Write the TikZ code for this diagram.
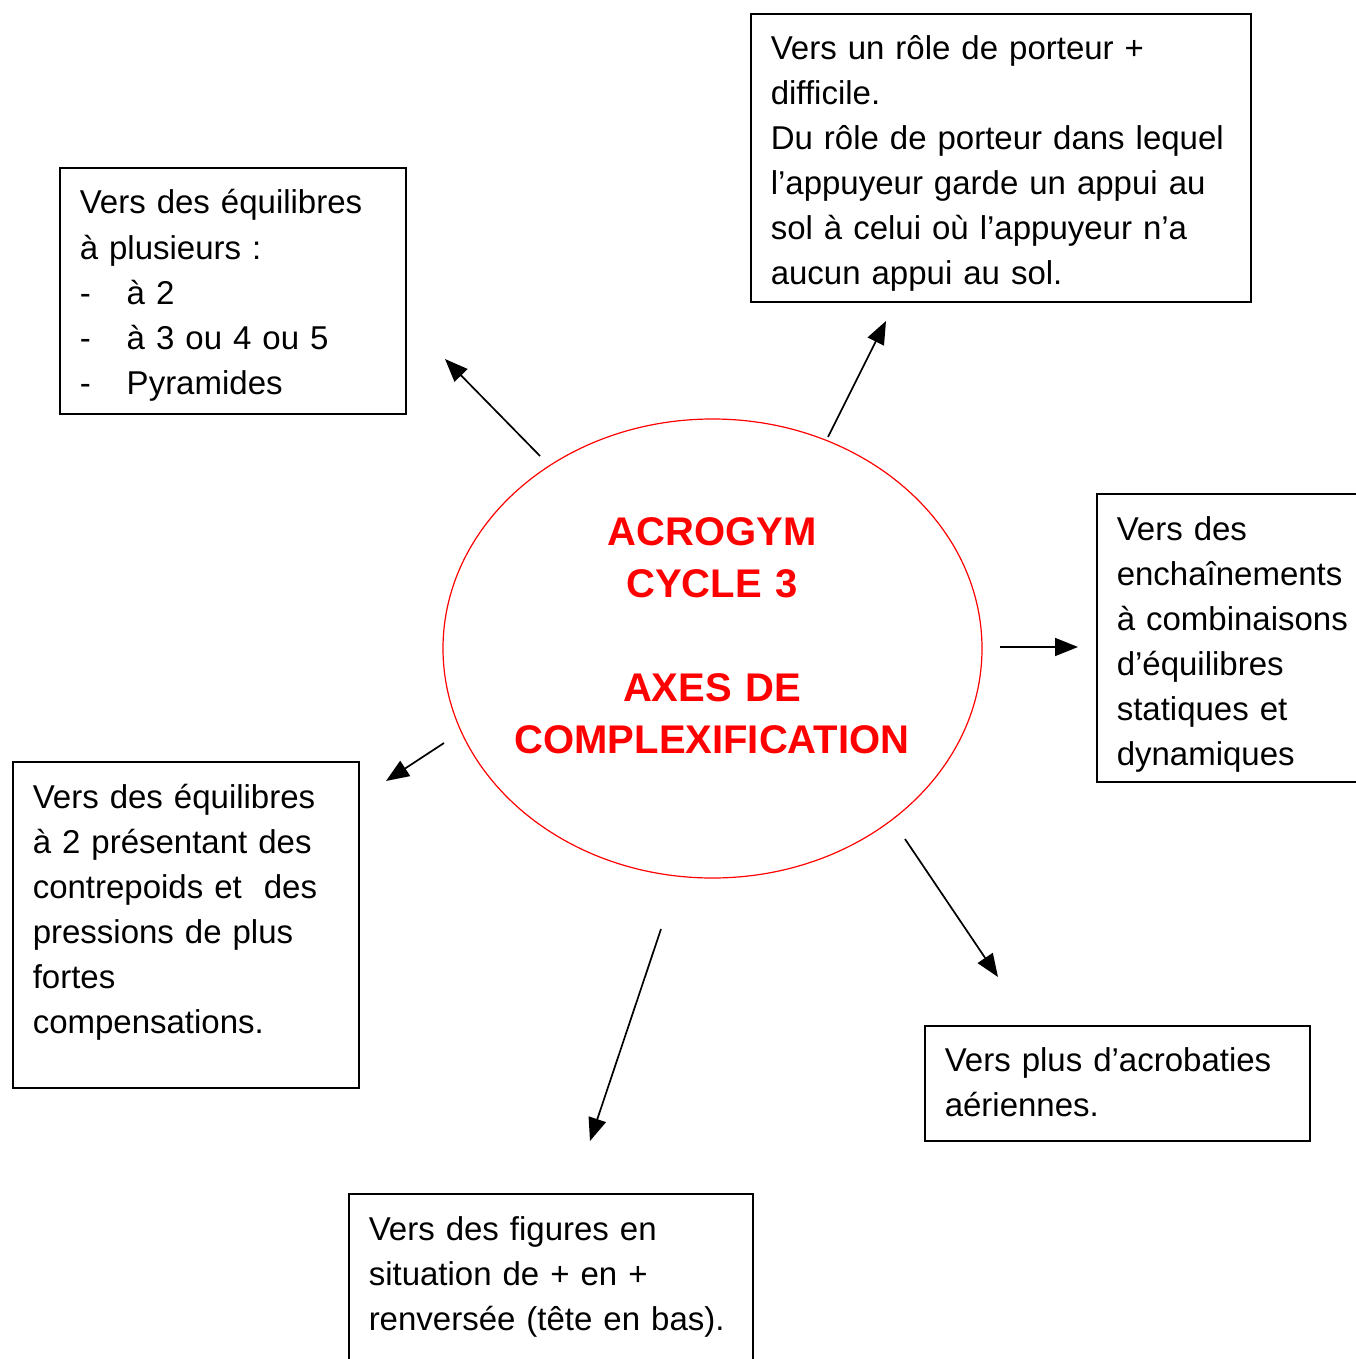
\documentclass[tikz,border=0pt]{standalone}
\usepackage{fontspec}
\setmainfont{Liberation Sans}
\usetikzlibrary{shapes.geometric,arrows.meta}

\begin{document}
\begin{tikzpicture}
	[x=1pt, y=-1pt, line width=1.5pt,
	cadre/.style={draw, rectangle, anchor=north west, inner sep=0pt, outer sep=0pt},
	texte/.style={anchor=base west, inner sep=0pt, text width=560pt, align=left, font=\fontsize{33}{45}\selectfont},
	titre/.style={anchor=base, inner sep=0pt, text width=520pt, align=center, text=red, font=\bfseries\fontsize{40}{52}\selectfont},
	fleche/.style={-{Triangle[length=23pt,width=18pt]}, line width=1.7pt}]
	\useasboundingbox (0,0) rectangle (1355,1359);

	\node[ellipse, draw=red, line width=1.2pt, minimum width=539pt, minimum height=459pt, inner sep=0pt] (centre) at (712.5,648.5) {};
	\node[titre] (t0) at (712,545) {ACROGYM\\CYCLE 3\\[52pt]AXES DE\\COMPLEXIFICATION};

	\node[cadre, minimum width=346pt, minimum height=246pt] (b1) at (60,168) {};
	\node[texte] (t1) at ([shift={(19,46)}]b1.north west) {Vers des équilibres\\à plusieurs :\\\makebox[47pt][l]{-}à 2\\\makebox[47pt][l]{-}à 3 ou 4 ou 5\\\makebox[47pt][l]{-}Pyramides};

	\node[cadre, minimum width=500pt, minimum height=288pt] (b2) at (751,14) {};
	\node[texte] (t2) at ([shift={(19,46)}]b2.north west) {Vers un rôle de porteur +\\difficile.\\Du rôle de porteur dans lequel\\l’appuyeur garde un appui au\\sol à celui où l’appuyeur n’a\\aucun appui au sol.};

	\node[cadre, minimum width=300pt, minimum height=288pt] (b3) at (1097,494) {};
	\node[texte] (t3) at ([shift={(19,46)}]b3.north west) {Vers des\\enchaînements\\à combinaisons\\d’équilibres\\statiques et\\dynamiques};

	\node[cadre, minimum width=346pt, minimum height=326pt] (b4) at (13,762) {};
	\node[texte] (t4) at ([shift={(19,46)}]b4.north west) {Vers des équilibres\\à 2 présentant des\\contrepoids et\ \ des\\pressions de plus\\fortes\\compensations.};

	\node[cadre, minimum width=385pt, minimum height=115pt] (b5) at (925,1026) {};
	\node[texte] (t5) at ([shift={(19,45)}]b5.north west) {Vers plus d’acrobaties\\aériennes.};

	\node[cadre, minimum width=404pt, minimum height=200pt] (b6) at (349,1194) {};
	\node[texte] (t6) at ([shift={(19,46)}]b6.north west) {Vers des figures en\\situation de + en +\\renversée (tête en bas).};

	\coordinate (d1) at (540,456);
	\coordinate (f1) at (445,359);
	\coordinate (d2) at (828,437);
	\coordinate (f2) at (886,321);
	\coordinate (d3) at (1000,647);
	\coordinate (f3) at (1078,647);
	\coordinate (d4) at (444,743);
	\coordinate (f4) at (386,781);
	\coordinate (d5) at (905,839);
	\coordinate (f5) at (998,977);
	\coordinate (d6) at (661,929);
	\coordinate (f6) at (590,1141);
	\draw[fleche] (d1) -- (f1);
	\draw[fleche] (d2) -- (f2);
	\draw[fleche] (d3) -- (f3);
	\draw[fleche] (d4) -- (f4);
	\draw[fleche] (d5) -- (f5);
	\draw[fleche] (d6) -- (f6);
\end{tikzpicture}
\end{document}
